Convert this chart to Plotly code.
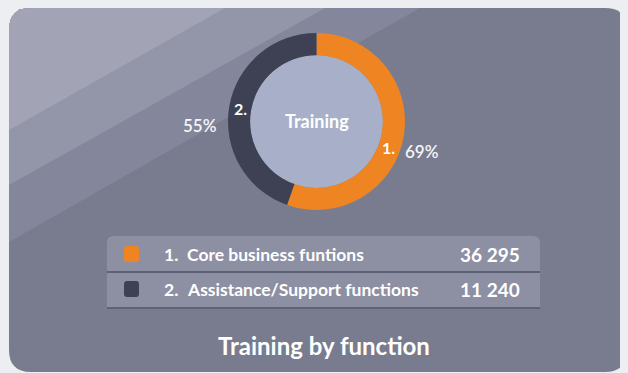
import plotly.graph_objects as go

# ---- data ----
categories = ["Core business funtions", "Assistance/Support functions"]
category_numbers = ["1.", "2."]
function_totals = [36295, 11240]
arc_share = [55.4, 44.6]          # share of the ring drawn for each function
pct_labels = ["69%", "55%"]
center_label = "Training"
chart_title = "Training by function"
colors = ["#ef8422", "#3d4153"]

OFF = 8                     # browser body margin
W, H = 628 - OFF, 373 - OFF


def px(x):
    return (x - OFF) / W


def py(y):
    return 1 - (y - OFF) / H


def path(points):
    parts = []
    for p in points:
        cmd = p[0]
        vals = p[1:]
        coords = []
        for i in range(0, len(vals), 2):
            coords.append(f"{px(vals[i]):.5f},{py(vals[i+1]):.5f}")
        parts.append(cmd + " " + " ".join(coords))
    return " ".join(parts) + " Z"


fig = go.Figure()

cx, cy, R = 316.5, 121.5, 88.5
fig.add_trace(go.Pie(
    values=arc_share,
    labels=categories,
    marker=dict(colors=colors, line=dict(width=0)),
    hole=0.75,
    sort=False,
    direction="clockwise",
    rotation=0,
    textinfo="none",
    hoverinfo="skip",
    showlegend=False,
    domain=dict(x=[px(cx - R), px(cx + R)], y=[py(cy + R), py(cy - R)]),
))

shapes = []
# card
L, T, Rr, B, rad = 9, 8, 627, 372, 22
shapes.append(dict(type="path", xref="paper", yref="paper", layer="below",
                   path=path([("M", L, T + rad), ("Q", L, T, L + rad, T), ("L", Rr - rad, T),
                              ("Q", Rr, T, Rr, T + rad), ("L", Rr, B - rad), ("Q", Rr, B, Rr - rad, B),
                              ("L", L + rad, B), ("Q", L, B, L, B - rad)]),
                   fillcolor="#797b8f", line=dict(width=0)))
# diagonal bands
bands = [(242, 420, "#84869b"), (185, 325, "#9396a9"), (130, 225, "#a2a3b5")]
for yl, xt, col in bands:
    shapes.append(dict(type="path", xref="paper", yref="paper", layer="below",
                       path=path([("M", L, yl), ("L", L, T + rad), ("Q", L, T, L + rad, T),
                                  ("L", xt, T)]),
                       fillcolor=col, line=dict(width=0)))
# hole fill
r_in = 66.5
shapes.append(dict(type="circle", xref="paper", yref="paper", layer="below",
                   x0=px(cx - r_in), x1=px(cx + r_in), y0=py(cy + r_in), y1=py(cy - r_in),
                   fillcolor="#a7b0c8", line=dict(width=0)))

# table
tx0, tx1 = 107, 540
shapes.append(dict(type="path", xref="paper", yref="paper", layer="below",
                   path=path([("M", tx0, 309), ("L", tx0, 242), ("Q", tx0, 236, tx0 + 6, 236),
                              ("L", tx1 - 6, 236), ("Q", tx1, 236, tx1, 242), ("L", tx1, 309)]),
                   fillcolor="#5f6276", line=dict(width=0)))
shapes.append(dict(type="path", xref="paper", yref="paper", layer="below",
                   path=path([("M", tx0, 271), ("L", tx0, 242), ("Q", tx0, 236, tx0 + 6, 236),
                              ("L", tx1 - 6, 236), ("Q", tx1, 236, tx1, 242), ("L", tx1, 271)]),
                   fillcolor="#8d8fa3", line=dict(width=0)))
shapes.append(dict(type="rect", xref="paper", yref="paper", layer="below",
                   x0=px(tx0), x1=px(tx1), y0=py(307), y1=py(273),
                   fillcolor="#8d8fa3", line=dict(width=0)))

annotations = []
row_y = [254, 289]
for i, (num, cat, val, col) in enumerate(zip(category_numbers, categories, function_totals, colors)):
    y = row_y[i]
    shapes.append(dict(type="path", xref="paper", yref="paper", layer="above",
                       path=path([("M", 124, y - 5), ("Q", 124, y - 8, 127, y - 8), ("L", 136, y - 8),
                                  ("Q", 139, y - 8, 139, y - 5), ("L", 139, y + 5), ("Q", 139, y + 8, 136, y + 8),
                                  ("L", 127, y + 8), ("Q", 124, y + 8, 124, y + 5)]),
                       fillcolor=col, line=dict(width=0)))
    font = dict(family="Lato", size=17.5, color="#ffffff", weight="bold")
    annotations.append(dict(x=px(162), y=py(y), xref="paper", yref="paper", text=num,
                            xanchor="left", yanchor="middle", showarrow=False, font=font))
    annotations.append(dict(x=px(185), y=py(y), xref="paper", yref="paper", text=cat,
                            xanchor="left", yanchor="middle", showarrow=False, font=font))
    annotations.append(dict(x=px(522), y=py(y), xref="paper", yref="paper",
                            text=f"{val:,}".replace(",", " "),
                            xanchor="right", yanchor="middle", showarrow=False,
                            font=dict(family="Lato", size=19, color="#ffffff", weight="bold")))

# ring labels
num_pos = [(388, 147), (240, 109)]
pct_pos = [(422, 151), (200, 125)]
for num, (x, y) in zip(category_numbers, num_pos):
    annotations.append(dict(x=px(x), y=py(y), xref="paper", yref="paper", text=num,
                            showarrow=False, xanchor="center", yanchor="middle",
                            font=dict(family="Lato", size=16, color="#ffffff", weight="bold")))
for lab, (x, y) in zip(pct_labels, pct_pos):
    annotations.append(dict(x=px(x), y=py(y), xref="paper", yref="paper", text=lab,
                            showarrow=False, xanchor="center", yanchor="middle",
                            font=dict(family="Lato", size=17, color="#f4f5f8", weight=600)))
annotations.append(dict(x=px(cx), y=py(121), xref="paper", yref="paper", text=center_label,
                        showarrow=False, xanchor="center", yanchor="middle",
                        font=dict(family="Lato", size=18, color="#ffffff", weight="bold")))
annotations.append(dict(x=px(324), y=py(345), xref="paper", yref="paper", text=chart_title,
                        showarrow=False, xanchor="center", yanchor="middle",
                        font=dict(family="Lato", size=24, color="#ffffff", weight="bold")))

fig.update_layout(
    width=W, height=H,
    margin=dict(l=0, r=0, t=0, b=0),
    paper_bgcolor="#eceef1",
    plot_bgcolor="#eceef1",
    shapes=shapes,
    annotations=annotations,
    showlegend=False,
)
fig.write_html("out.html", post_script="document.body.style.background='#eceef1';")
